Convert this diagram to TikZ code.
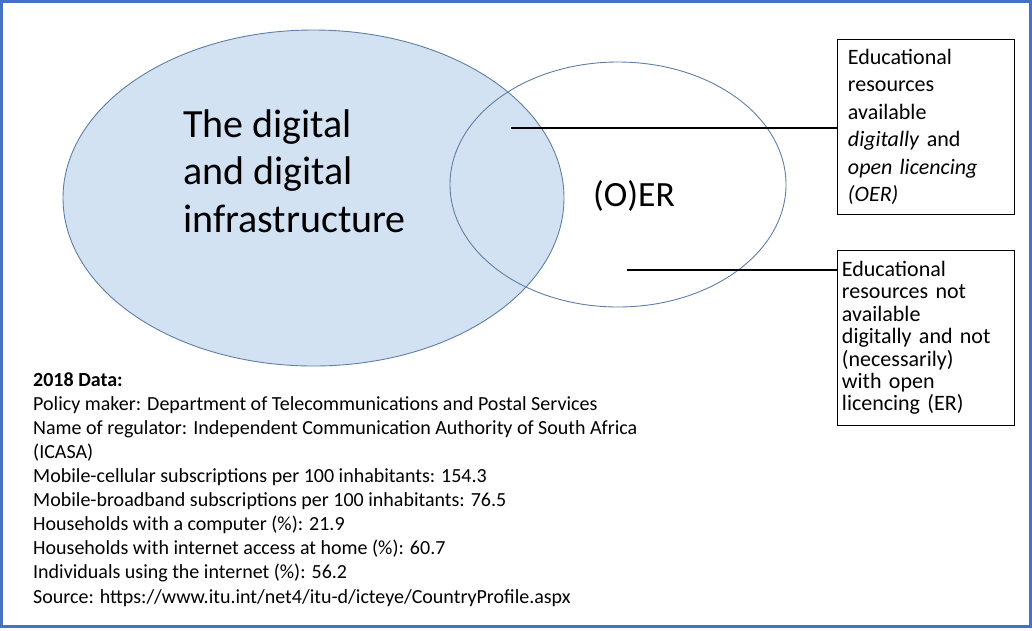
\documentclass[tikz,border=0pt]{standalone}
\usepackage{fontspec}
\setmainfont{Carlito}
\usetikzlibrary{shapes.geometric,positioning}
\definecolor{vennfill}{HTML}{D3E2F2}
\definecolor{vennline}{HTML}{5F7FA4}
\definecolor{framecol}{HTML}{4472C4}

\begin{document}
\begin{tikzpicture}[
  x=1pt, y=-1pt,
  venn/.style={ellipse, draw=vennline, line width=0.9pt, inner sep=0pt},
  big/.style={font=\fontsize{40}{47.5}\selectfont, align=left, anchor=base west, inner sep=0pt},
  note/.style={draw=black, line width=0.9pt, align=left, anchor=north west,
               minimum width=177pt, minimum height=175pt, inner ysep=0pt},
  lead/.style={line width=2pt, draw=black}]
 \useasboundingbox (0,0) rectangle (1032,630);
 \draw[framecol, line width=3pt] (1.5,1.5) rectangle (1030.5,626.5);
 % the two sets
 \node[venn, fill=vennfill, minimum width=501pt, minimum height=336pt] (digital) at (313.5,198) {};
 \node[venn, minimum width=336pt, minimum height=245pt] (oer) at (618,184.5) {};
 % base anchor = last line
 \node[big] (digitext) at (183,232) {The digital\\and digital\\infrastructure};
 \node[big, font=\fontsize{35.5}{44}\selectfont] (oertext) at (593,206) {(O)ER};
 % explanations
 \node[note, inner xsep=11pt, text width=155pt, font=\fontsize{22}{27.5}\selectfont] (oerbox) at (836.5,39)
      {Educational\\resources\\available\\\textit{digitally} and\\\textit{open licencing}\\\textit{(OER)}};
 \node[note, inner xsep=5pt, text width=167pt, font=\fontsize{22}{22.4}\selectfont] (erbox) at (836.5,250)
      {Educational\\resources not\\available\\digitally and not\\(necessarily)\\with open\\licencing (ER)};
 \coordinate (oerpt) at (511,128);
 \coordinate (erpt) at (627,270);
 \draw[lead] (oerpt) -- (oerpt -| oerbox.west);
 \draw[lead] (erpt) -- (erpt -| erbox.west);
 % country data
 \node[big, font=\fontsize{20}{24.1}\selectfont] (data) at (33,603)
      {\textbf{2018 Data:}\\
       Policy maker: Department of Telecommunications and Postal Services\\
       Name of regulator: Independent Communication Authority of South Africa\\
       (ICASA)\\
       Mobile-cellular subscriptions per 100 inhabitants: 154.3\\
       Mobile-broadband subscriptions per 100 inhabitants: 76.5\\
       Households with a computer (\%): 21.9\\
       Households with internet access at home (\%): 60.7\\
       Individuals using the internet (\%): 56.2\\
       Source: https://www.itu.int/net4/itu-d/icteye/CountryProfile.aspx};
\end{tikzpicture}
\end{document}
